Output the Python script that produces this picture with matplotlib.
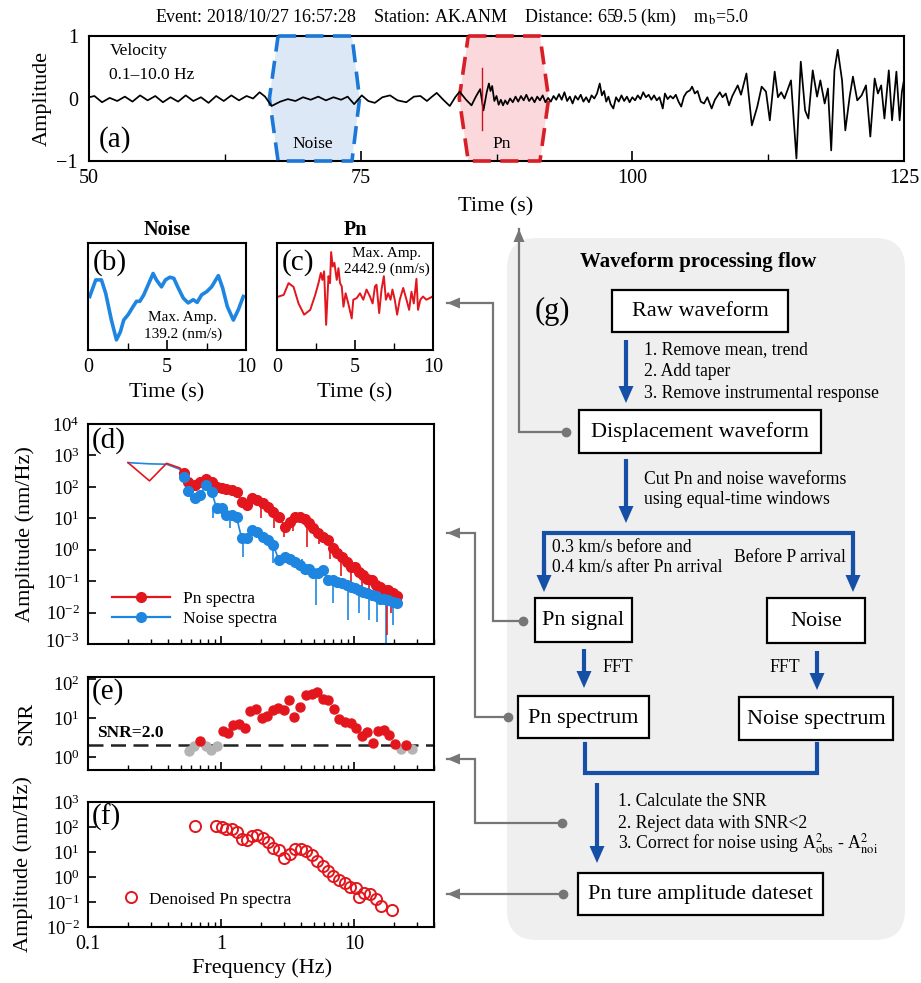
import numpy as np
import matplotlib
matplotlib.use('Agg')
import matplotlib.pyplot as plt
from matplotlib.patches import FancyBboxPatch, Rectangle, Polygon
from matplotlib.lines import Line2D
from matplotlib.transforms import ScaledTranslation
from matplotlib.ticker import LogLocator, NullLocator, FixedLocator, NullFormatter, FixedFormatter

plt.rcParams['font.family'] = ['Liberation Serif', 'DejaVu Serif']
plt.rcParams['mathtext.fontset'] = 'stix'

# ---------------- data ----------------
wave_pts = [(50.0, 0.02), (50.5, 0.04), (51.2, -0.06), (51.9, 0.01), (52.6, -0.04), (53.3, 0.03),
            (54.0, -0.05), (54.7, 0.05), (55.4, -0.03), (56.1, 0.04), (56.8, -0.06), (57.5, 0.02),
            (58.2, -0.05), (58.9, 0.05), (59.6, -0.04), (60.3, 0.02), (61.0, -0.07), (61.7, 0.04),
            (62.4, -0.04), (63.1, 0.05), (63.8, -0.03), (64.5, 0.04), (65.1, 0.0), (65.7, 0.10),
            (66.2, 0.03), (66.8, -0.12),
            (67.6, -0.05), (68.3, -0.01), (69.0, -0.04), (69.7, 0.02), (70.4, -0.02), (71.1, 0.03),
            (71.8, -0.03), (72.5, 0.02), (73.2, -0.02), (73.8, 0.03), (74.4, -0.09), (75.1, 0.05),
            (75.7, -0.04), (76.3, -0.07), (77.0, 0.02), (77.7, 0.05), (78.4, -0.03), (79.2, -0.06),
            (79.9, 0.03), (80.5, 0.04), (81.1, -0.04), (81.5, 0.02), (82.0, 0.09), (82.6, -0.02),
            (83.2, -0.12), (83.7, 0.02), (84.1, 0.11), (84.7, -0.02), (85.2, -0.11), (85.6, 0.03),
            (86.0, 0.15),
            (86.3, -0.19), (86.6, 0.10), (86.8, 0.24), (86.95, 0.12), (87.1, 0.20), (87.3, -0.04),
            (87.5, 0.04), (87.7, -0.10), (87.9, -0.02), (88.1, -0.11), (88.3, -0.03), (88.5, -0.09),
            (88.75, 0.0), (89.0, -0.06), (89.25, 0.03), (89.5, -0.05), (89.75, 0.04), (90.0, -0.03),
            (90.25, 0.06), (90.5, -0.04), (90.75, 0.02), (91.0, -0.06), (91.25, 0.03), (91.5, -0.03),
            (91.75, 0.05), (92.0, -0.06), (92.25, 0.01), (92.5, -0.05), (92.75, 0.04), (93.0, -0.02),
            (93.25, 0.07), (93.5, -0.02), (93.75, 0.10), (94.0, -0.04), (94.25, 0.03), (94.5, -0.08),
            (94.75, 0.04), (95.0, -0.02), (95.25, 0.06), (95.5, -0.05), (95.75, 0.02), (96.0, -0.06),
            (96.25, 0.05), (96.5, 0.0), (96.75, 0.08), (97.0, 0.24), (97.2, 0.05), (97.4, 0.12),
            (97.6, -0.05), (97.8, 0.03), (98.0, -0.09), (98.25, -0.16), (98.5, 0.02), (98.75, -0.05),
            (99.0, 0.05), (99.25, -0.04), (99.5, 0.03), (99.75, -0.06), (100.0, 0.02), (100.25, -0.03),
            (100.5, 0.05), (100.75, -0.01), (101.0, 0.10), (101.25, 0.02), (101.5, 0.06), (101.75, -0.02),
            (102.0, 0.05), (102.25, -0.03), (102.5, 0.02), (102.8, -0.16), (103.0, 0.08), (103.25, -0.01),
            (103.5, 0.04), (103.75, 0.0), (104.0, 0.06), (104.25, -0.05), (104.5, -0.13), (104.75, 0.03),
            (105.0, 0.10), (105.3, 0.13), (105.5, 0.19), (105.75, 0.08), (106.0, 0.12), (106.3, -0.05),
            (106.6, -0.08), (106.9, 0.02), (107.3, -0.16), (107.6, -0.02), (108.05, 0.10), (108.3, 0.02),
            (108.6, 0.08), (108.9, -0.11), (109.2, 0.04), (109.7, 0.21), (110.0, 0.06), (110.5, 0.40),
            (111.0, -0.43), (111.5, -0.13), (111.9, 0.19), (112.3, 0.11), (112.65, -0.35), (113.1, 0.43),
            (113.4, 0.02), (113.7, 0.10), (114.0, 0.0), (114.6, 0.29), (115.1, -0.96), (115.5, 0.59),
            (115.9, -0.19), (116.2, -0.32), (116.6, 0.45), (117.0, 0.03), (117.3, 0.29), (117.7, -0.08),
            (118.0, 0.16), (118.3, -0.83), (118.6, 0.45), (118.9, 0.78), (119.3, 0.29), (119.6, -0.51),
            (120.0, 0.03), (120.3, 0.35), (120.7, -0.03), (121.1, 0.05), (121.5, 0.21), (121.9, -0.61),
            (122.3, 0.32), (122.6, 0.08), (122.9, 0.21), (123.2, -0.32), (123.6, 0.45), (123.9, -0.35),
            (124.3, 0.43), (124.6, -0.35), (124.8, 0.10), (125.0, 0.30)]
pn_arrival_t = 86.2
pn_arrival_range = (-0.51, 0.48)
noise_win_t = [67.4, 74.2, 74.9, 74.2, 67.4, 66.6]
noise_win_v = [1, 1, 0, -1, -1, 0]
pn_win_t = [84.9, 91.5, 92.3, 91.5, 84.9, 84.07]
pn_win_v = [1, 1, 0, -1, -1, 0]

noise_wave_pts = [(0.11, 0.0), (0.49, 0.31), (0.85, 0.31), (1.12, 0.06), (1.48, -0.44), (1.80, -0.81),
                  (2.05, -0.66), (2.26, -0.44), (2.54, -0.34), (2.85, -0.19), (3.07, -0.09), (3.28, -0.09),
                  (3.53, 0.03), (3.81, 0.22), (4.12, 0.43), (4.33, 0.31), (4.65, 0.18), (4.90, 0.31),
                  (5.18, 0.36), (5.43, 0.34), (5.71, 0.16), (6.03, -0.03), (6.34, -0.12), (6.66, -0.06),
                  (6.91, -0.11), (7.19, 0.03), (7.51, 0.09), (7.82, 0.18), (8.25, 0.39), (8.52, 0.16),
                  (8.82, -0.19), (9.20, -0.44), (9.51, -0.25), (9.83, 0.0)]
pn_wave_pts = [(0.11, 0.0), (0.43, 0.03), (0.74, 0.25), (1.06, 0.18), (1.38, -0.13), (1.74, -0.34),
               (2.13, -0.25), (2.45, 0.03), (2.66, 0.25), (2.81, 0.44), (2.91, 0.31), (3.02, 0.47),
               (3.15, -0.53), (3.30, 0.38), (3.40, 0.25), (3.47, 0.83), (3.57, 0.56), (3.68, 0.63),
               (3.83, 0.31), (3.94, 0.53), (4.04, 0.25), (4.15, 0.19), (4.26, -0.19), (4.40, 0.06),
               (4.57, -0.13), (4.79, -0.41), (4.89, -0.06), (5.11, -0.03), (5.32, 0.06), (5.53, -0.06),
               (5.74, 0.13), (5.96, 0.0), (6.13, -0.13), (6.28, 0.19), (6.38, 0.22), (6.55, -0.31),
               (6.70, 0.13), (6.85, 0.38), (6.98, -0.06), (7.13, 0.06), (7.28, -0.06), (7.40, 0.13),
               (7.55, -0.06), (7.70, -0.34), (7.87, -0.06), (8.09, 0.16), (8.30, -0.06), (8.47, -0.25),
               (8.62, 0.09), (8.77, -0.13), (8.94, 0.33), (9.04, -0.25), (9.19, -0.06), (9.36, 0.0),
               (9.57, -0.06), (9.79, -0.03), (9.96, 0.0)]

spec_f = [0.527, 0.567, 0.638, 0.695, 0.771, 0.851, 0.927, 1.01, 1.10, 1.20,
          1.31, 1.43, 1.56, 1.72, 1.88, 2.06, 2.27, 2.47, 2.73, 3.03,
          3.30, 3.60, 3.93, 4.28, 4.61, 4.94, 5.39, 5.88, 6.41, 6.92,
          7.41, 8.08, 8.81, 9.44, 10.2, 11.0, 11.7, 12.6, 13.6, 14.6,
          15.7, 16.8, 18.1, 19.5, 20.9]
pn_spec = [282, 145, 114, 145, 174, 145, 100, 89, 83, 79,
           69, 34, 26, 43, 38, 31, 23, 16, 11, 5.4,
           7.7, 11, 11, 9.2, 6.9, 4.8, 3.3, 2.6, 2.0, 1.1,
           0.76, 0.59, 0.41, 0.29, 0.29, 0.20, 0.155, 0.12, 0.107, 0.074,
           0.066, 0.051, 0.051, 0.041, 0.033]
noise_spec = [200, 75, 43, 55, 114, 70, 21, 22, 12.6, 12.6,
              11, 2.3, 2.3, 4.2, 3.7, 2.6, 2.0, 1.4, 0.47, 0.59,
              0.52, 0.41, 0.32, 0.25, 0.25, 0.18, 0.18, 0.22, 0.107, 0.107,
              0.095, 0.085, 0.074, 0.066, 0.059, 0.051, 0.046, 0.041, 0.036, 0.033,
              0.028, 0.028, 0.025, 0.022, 0.020]
lowf_f = [0.20, 0.29, 0.39, 0.49]
pn_lowf = [590, 155, 560, 400]
noise_lowf = [590, 540, 525, 363]
pn_spike_f = [2.0, 2.5, 3.0, 3.5, 4.4, 5.5, 6.6, 8.0, 9.5, 11.5, 13.0, 15.0, 17.6, 19.0]
pn_spike_top = [38, 23, 6, 12, 11, 4.5, 2.3, 0.8, 0.4, 0.22, 0.14, 0.09, 0.06, 0.045]
pn_spike_lo = [10, 5, 2.5, 4, 1.2, 1.5, 0.5, 0.15, 0.08, 0.07, 0.03, 0.02, 0.002, 0.01]
noise_spike_f = [0.60, 0.87, 1.17, 1.47, 2.46, 4.1, 5.2, 7.0, 9.0, 11.0, 13.0, 15.0, 17.4, 19.5]
noise_spike_top = [55, 22, 12, 2.3, 2.0, 0.5, 0.25, 0.11, 0.08, 0.06, 0.05, 0.04, 0.03, 0.025]
noise_spike_lo = [38, 10, 4.9, 0.58, 0.37, 0.28, 0.017, 0.02, 0.006, 0.01, 0.006, 0.005, 0.001, 0.004]

snr_red_f = [0.695, 1.03, 1.135, 1.24, 1.36, 1.51, 1.65, 1.83, 2.02, 2.21, 2.45, 2.70, 2.98, 3.27,
             3.56, 3.93, 4.36, 4.81, 5.30, 5.82, 6.41, 7.08, 7.76, 8.55, 9.44, 10.4, 11.4, 12.6,
             13.8, 15.2, 16.8, 18.4, 20.3, 24.6]
snr_red = [2.57, 4.73, 4.2, 6.6, 6.9, 5.4, 15.4, 16.7, 10.2, 11.3, 16.0, 17.7, 16.0, 29,
           10.4, 18.8, 39, 41, 45.6, 30, 29, 17, 9.4, 8.1, 7.6, 5.4, 3.5, 4.4,
           2.3, 4.6, 4.9, 3.65, 2.12, 2.05]
snr_gray_f = [0.578, 0.63, 0.767, 0.84, 0.927, 22.4, 27.2]
snr_gray = [1.45, 1.91, 1.9, 1.51, 1.91, 1.6, 1.58]
snr_threshold = 2.0

den_f = [0.638, 0.916, 1.01, 1.10, 1.20, 1.33, 1.45, 1.58, 1.72, 1.88, 2.08, 2.27, 2.47, 2.74,
         2.99, 3.30, 3.60, 3.97, 4.36, 4.81, 5.30, 5.82, 6.41, 6.99, 7.71, 8.55, 9.33, 10.35,
         11.0, 11.9, 13.2, 14.6, 16.0, 19.2]
den_a = [110, 110, 97, 83, 83, 61, 33, 30, 45, 48, 35, 26, 14, 12,
         5.9, 8.3, 12.8, 12.8, 11.3, 7.6, 4.5, 2.8, 1.8, 1.1, 0.76, 0.56, 0.41, 0.35,
         0.155, 0.235, 0.21, 0.13, 0.071, 0.048]

# ---------------- figure ----------------
W, H = 921, 983
fig = plt.figure(figsize=(W / 100, H / 100), dpi=100)

def pax(l, t, r, b, **kw):
    return fig.add_axes([l / W, 1 - b / H, (r - l) / W, (b - t) / H], **kw)

RED = '#e3161d'
BLUE = '#1e86e0'
DBLUE = '#1550a6'
GRAY = '#767676'
TICK = 14.5
LOGTICK = 13.5
LAB = 16
LET = 21

# overlay for flowchart and connectors
ov = fig.add_axes([0, 0, 1, 1])
ov.set_xlim(0, W)
ov.set_ylim(H, 0)
ov.axis('off')

ov.add_patch(FancyBboxPatch((507, 238), 905 - 507, 940 - 238,
                            boxstyle='round,pad=0,rounding_size=30',
                            fc='#efefef', ec='none', zorder=0))

boxes = {
    'Raw waveform': (612, 290, 788, 332),
    'Displacement waveform': (579, 410, 821, 453),
    'Pn signal': (535, 598, 632, 642),
    'Noise': (767, 598, 865, 643),
    'Pn spectrum': (518, 696, 649, 738),
    'Noise spectrum': (739, 697, 893, 740),
    'Pn ture amplitude dateset': (578, 873, 823, 915),
}
for name, (l, t, r, b) in boxes.items():
    ov.add_patch(Rectangle((l, t), r - l, b - t, fc='white', ec='black', lw=1.6, zorder=2))
    ov.text((l + r) / 2, (t + b) / 2 + 1, name, ha='center', va='center', fontsize=16, zorder=3)

ov.text(698, 262, 'Waveform processing flow', ha='center', va='center', fontsize=15,
        fontweight='bold')
ov.text(552, 311, '(g)', ha='center', va='center', fontsize=22)

def down_arrow(x, y0, y1, color=DBLUE, lw=3.0, hl=17, hw=7.5):
    ov.plot([x, x], [y0, y1 - hl + 2], color=color, lw=lw, solid_capstyle='butt', zorder=3)
    ov.add_patch(Polygon([(x - hw, y1 - hl), (x + hw, y1 - hl), (x, y1)], closed=True,
                         fc=color, ec='none', zorder=3))

down_arrow(626, 340, 403)
down_arrow(626, 459, 523)
ov.plot([544, 544, 853, 853], [585, 533, 533, 585], color=DBLUE, lw=3.0, zorder=3,
        solid_joinstyle='miter')
down_arrow(544, 560, 592)
down_arrow(853, 560, 592)
down_arrow(584, 649, 688)
down_arrow(817, 651, 690)
ov.plot([585, 585, 817, 817], [744, 773, 773, 744], color=DBLUE, lw=3.0, zorder=3,
        solid_joinstyle='miter')
down_arrow(597, 783, 863)

FS = 12.7
ov.text(644, 350, '1. Remove mean, trend', ha='left', va='center', fontsize=FS)
ov.text(644, 372, '2. Add taper', ha='left', va='center', fontsize=FS)
ov.text(644, 393, '3. Remove instrumental response', ha='left', va='center', fontsize=FS)
ov.text(644, 479, 'Cut Pn and noise waveforms', ha='left', va='center', fontsize=FS)
ov.text(644, 500, 'using equal-time windows', ha='left', va='center', fontsize=FS)
ov.text(552, 547, '0.3 km/s before and', ha='left', va='center', fontsize=FS)
ov.text(552, 568, '0.4 km/s after Pn arrival', ha='left', va='center', fontsize=FS)
ov.text(734, 557, 'Before P arrival', ha='left', va='center', fontsize=FS)
ov.text(602, 667, 'FFT', ha='left', va='center', fontsize=FS)
ov.text(800, 667, 'FFT', ha='right', va='center', fontsize=FS)
ov.text(618, 802, '1. Calculate the SNR', ha='left', va='center', fontsize=FS)
ov.text(618, 823, '2. Reject data with SNR<2', ha='left', va='center', fontsize=FS)
ov.text(618, 844, r'3. Correct for noise using A$^{2}_{\mathrm{obs}}$ - A$^{2}_{\mathrm{noi}}$',
        ha='left', va='center', fontsize=FS)

def connector(xs, ys, direction):
    ov.plot(xs, ys, color=GRAY, lw=1.6, zorder=1, solid_joinstyle='miter')
    ov.plot(xs[0], ys[0], 'o', ms=6, color=GRAY, zorder=1)
    tx, ty = xs[-1], ys[-1]
    if direction == 'left':
        tri = [(tx, ty), (tx + 13, ty - 5.5), (tx + 13, ty + 5.5)]
    else:
        tri = [(tx, ty), (tx - 5.5, ty + 13), (tx + 5.5, ty + 13)]
    ov.add_patch(Polygon(tri, closed=True, fc=GRAY, ec='none', zorder=1))

connector([566, 519, 519], [432, 432, 229], 'up')
connector([523, 493, 493, 447], [621, 621, 303, 303], 'left')
connector([508, 475, 475, 447], [717, 717, 533, 533], 'left')
connector([562, 475, 475, 447], [823, 823, 759, 759], 'left')
connector([563, 447], [894, 894], 'left')

def style(ax, lw=1.5, size=TICK):
    for s in ax.spines.values():
        s.set_linewidth(lw)
    ax.tick_params(which='both', direction='in', top=False, right=False, labelsize=size, pad=6)
    ax.tick_params(which='major', length=6, width=1.2)
    ax.tick_params(which='minor', length=3.5, width=1.0)

# ---------------- (a) ----------------
axa = pax(89, 36, 904, 161)
wt = [p[0] for p in wave_pts]
wv = [p[1] for p in wave_pts]
axa.add_patch(Polygon(list(zip(noise_win_t, noise_win_v)), closed=True, fc='#dde8f7', ec='none', zorder=1))
axa.add_patch(Polygon(list(zip(pn_win_t, pn_win_v)), closed=True, fc='#fbd8db', ec='none', zorder=1))
axa.plot(noise_win_t + noise_win_t[:1], noise_win_v + noise_win_v[:1], color='#1b78d6', lw=2.6,
         ls=(0, (5, 2.6)), zorder=3, clip_on=False)
axa.plot(pn_win_t + pn_win_t[:1], pn_win_v + pn_win_v[:1], color='#d81e26', lw=2.6,
         ls=(0, (5, 2.6)), zorder=3, clip_on=False)
axa.plot(wt, wv, color='black', lw=1.25, zorder=4)
axa.plot([pn_arrival_t, pn_arrival_t], pn_arrival_range, color='#c8141c', lw=1.0, zorder=5)
axa.set_xlim(50, 125)
axa.set_ylim(-1, 1)
style(axa)
axa.xaxis.set_major_locator(FixedLocator([50, 75, 100, 125]))
axa.xaxis.set_minor_locator(FixedLocator([62.5, 87.5, 112.5]))
axa.set_yticks([-1, 0, 1])
axa.set_yticklabels(['\u22121', '0', '1'])
axa.tick_params(axis='y', which='both', length=0, pad=8)
axa.tick_params(axis='x', which='major', length=7)
axa.tick_params(axis='x', which='minor', length=5)
axa.text(0.025, 0.88, 'Velocity', transform=axa.transAxes, fontsize=12.5, va='center', ha='left')
axa.text(0.025, 0.69, '0.1\u201310.0 Hz', transform=axa.transAxes, fontsize=12.5, va='center', ha='left')
axa.text(0.012, 0.17, '(a)', transform=axa.transAxes, fontsize=LET, va='center', ha='left')
axa.text(70.6, -0.73, 'Noise', fontsize=12.5, ha='center', va='center', zorder=6)
axa.text(88.0, -0.73, 'Pn', fontsize=12.5, ha='center', va='center', zorder=6)
fig.text(42 / W, 1 - 98 / H, 'Amplitude', rotation=90, ha='center', va='center', fontsize=LAB)
fig.text(496 / W, 1 - 207 / H, 'Time (s)', ha='center', va='center', fontsize=LAB)
fig.text(155 / W, 1 - 17 / H,
         r'Event: 2018/10/27 16:57:28    Station: AK.ANM    Distance: 659.5 (km)    m$_{\mathrm{b}}$=5.0',
         ha='left', va='center', fontsize=13)

# ---------------- (b), (c) ----------------
for (l, r), pts, col, lw, ttl, let in [((88, 246), noise_wave_pts, BLUE, 2.6, 'Noise', '(b)'),
                                       ((277, 433), pn_wave_pts, RED, 1.4, 'Pn', '(c)')]:
    ax = pax(l, 243, r, 350)
    ax.plot([p[0] for p in pts], [p[1] for p in pts], color=col, lw=lw)
    ax.set_xlim(0, 10)
    ax.set_ylim(-1, 1)
    style(ax)
    ax.xaxis.set_major_locator(FixedLocator([0, 5, 10]))
    ax.xaxis.set_minor_locator(FixedLocator([2.5, 7.5]))
    ax.set_yticks([])
    ax.tick_params(axis='x', which='major', length=7)
    ax.tick_params(axis='x', which='minor', length=5)
    ax.text(0.5, 1.03, ttl, transform=ax.transAxes, ha='center', va='bottom', fontsize=14.5,
            fontweight='bold')
    ax.text(0.03, 0.82, let, transform=ax.transAxes, ha='left', va='center', fontsize=LET)
    fig.text((l + r) / 2 / W, 1 - 393 / H, 'Time (s)', ha='center', va='center', fontsize=LAB)
    if ttl == 'Noise':
        ax.text(0.60, 0.30, 'Max. Amp.', transform=ax.transAxes, ha='center', va='center', fontsize=11)
        ax.text(0.60, 0.15, '139.2 (nm/s)', transform=ax.transAxes, ha='center', va='center', fontsize=11)
    else:
        ax.text(0.705, 0.90, 'Max. Amp.', transform=ax.transAxes, ha='center', va='center', fontsize=11)
        ax.text(0.705, 0.75, '2442.9 (nm/s)', transform=ax.transAxes, ha='center', va='center', fontsize=11)

def logx(ax):
    ax.set_xscale('log')
    ax.set_yscale('log')
    ax.set_xlim(0.1, 40)
    ax.xaxis.set_major_locator(FixedLocator([0.1, 1, 10]))
    ax.xaxis.set_minor_locator(LogLocator(base=10, subs=np.arange(2, 10), numticks=20))
    ax.yaxis.set_minor_locator(NullLocator())
    style(ax, size=LOGTICK)

# ---------------- (d) ----------------
axd = pax(88, 424, 434, 644)
logx(axd)
axd.set_ylim(1e-3, 1e4)
axd.yaxis.set_major_locator(FixedLocator([1e-3, 1e-2, 1e-1, 1, 10, 100, 1e3, 1e4]))
axd.xaxis.set_major_formatter(NullFormatter())
axd.xaxis.set_minor_formatter(NullFormatter())
axd.plot(lowf_f + spec_f, pn_lowf + pn_spec, color=RED, lw=1.2, zorder=3)
axd.vlines(pn_spike_f, pn_spike_lo, pn_spike_top, color=RED, lw=1.2, zorder=3)
axd.plot(lowf_f + spec_f, noise_lowf + noise_spec, color=BLUE, lw=1.2, zorder=2)
axd.vlines(noise_spike_f, noise_spike_lo, noise_spike_top, color=BLUE, lw=1.2, zorder=2)
axd.plot(spec_f, pn_spec, 'o', color=RED, ms=7, zorder=4)
axd.plot(spec_f, noise_spec, 'o', color=BLUE, ms=7, zorder=4)
axd.text(0.01, 0.985, '(d)', transform=axd.transAxes, ha='left', va='top', fontsize=LET)
hd = [Line2D([], [], color=RED, lw=1.6, marker='o', ms=7),
      Line2D([], [], color=BLUE, lw=1.6, marker='o', ms=7)]
axd.legend(hd, ['Pn spectra', 'Noise spectra'], loc='lower left', bbox_to_anchor=(0.06, 0.06),
           frameon=False, fontsize=12.5, handlelength=3.3, handletextpad=0.8, labelspacing=0.25,
           borderaxespad=0, borderpad=0.2)
fig.text(25 / W, 1 - 534 / H, 'Amplitude (nm/Hz)', rotation=90, ha='center', va='center', fontsize=LAB)

# ---------------- (e) ----------------
axe = pax(88, 677, 434, 770)
logx(axe)
axe.set_ylim(10 ** -0.33, 10 ** 2.05)
axe.yaxis.set_major_locator(FixedLocator([1, 10, 100]))
axe.xaxis.set_major_formatter(NullFormatter())
axe.xaxis.set_minor_formatter(NullFormatter())
axe.axhline(snr_threshold, color='#222222', lw=1.8, ls=(0, (6, 3)), zorder=2)
axe.plot(snr_gray_f, snr_gray, 'o', color='#b4b4b4', ms=6.5, zorder=3)
axe.plot(snr_red_f, snr_red, 'o', color=RED, ms=6.5, zorder=4)
axe.text(0.026, 0.40, 'SNR=2.0', transform=axe.transAxes, ha='left', va='center', fontsize=12.5,
         fontweight='bold')
axe.text(0.01, 0.985, '(e)', transform=axe.transAxes, ha='left', va='top', fontsize=LET)
fig.text(27 / W, 1 - 723 / H, 'SNR', rotation=90, ha='center', va='center', fontsize=LAB)

# ---------------- (f) ----------------
axf = pax(88, 802, 434, 927)
logx(axf)
axf.set_ylim(1e-2, 1e3)
axf.yaxis.set_major_locator(FixedLocator([1e-2, 1e-1, 1, 10, 100, 1e3]))
axf.xaxis.set_major_formatter(FixedFormatter(['0.1', '1', '10']))
axf.xaxis.set_minor_formatter(NullFormatter())
axf.tick_params(axis='x', labelsize=TICK)
axf.plot(den_f, den_a, 'o', mfc='none', mec=RED, mew=1.4, ms=8, ls='none')
axf.text(0.01, 0.985, '(f)', transform=axf.transAxes, ha='left', va='top', fontsize=LET)
hf = [Line2D([], [], color=RED, marker='o', mfc='none', mew=1.4, ms=8, ls='none')]
axf.legend(hf, ['Denoised Pn spectra'], loc='lower left', bbox_to_anchor=(0.08, 0.10),
           frameon=False, fontsize=12.5, handlelength=1.0, handletextpad=0.5, borderaxespad=0)
fig.text(23 / W, 1 - 864 / H, 'Amplitude (nm/Hz)', rotation=90, ha='center', va='center', fontsize=LAB)
fig.text(262 / W, 1 - 968 / H, 'Frequency (Hz)', ha='center', va='center', fontsize=LAB)

# nudge the two nearly-touching tick labels (d: 10^-3, e: 10^2) apart slightly
fig.canvas.draw()
dpt = fig.dpi_scale_trans
lab_d = axd.yaxis.get_major_ticks()[0].label1
lab_d.set_transform(lab_d.get_transform() + ScaledTranslation(0, 4 / 100, dpt))
lab_e = axe.yaxis.get_major_ticks()[-1].label1
lab_e.set_transform(lab_e.get_transform() + ScaledTranslation(0, -4 / 100, dpt))

fig.savefig('out.png', dpi=100)
